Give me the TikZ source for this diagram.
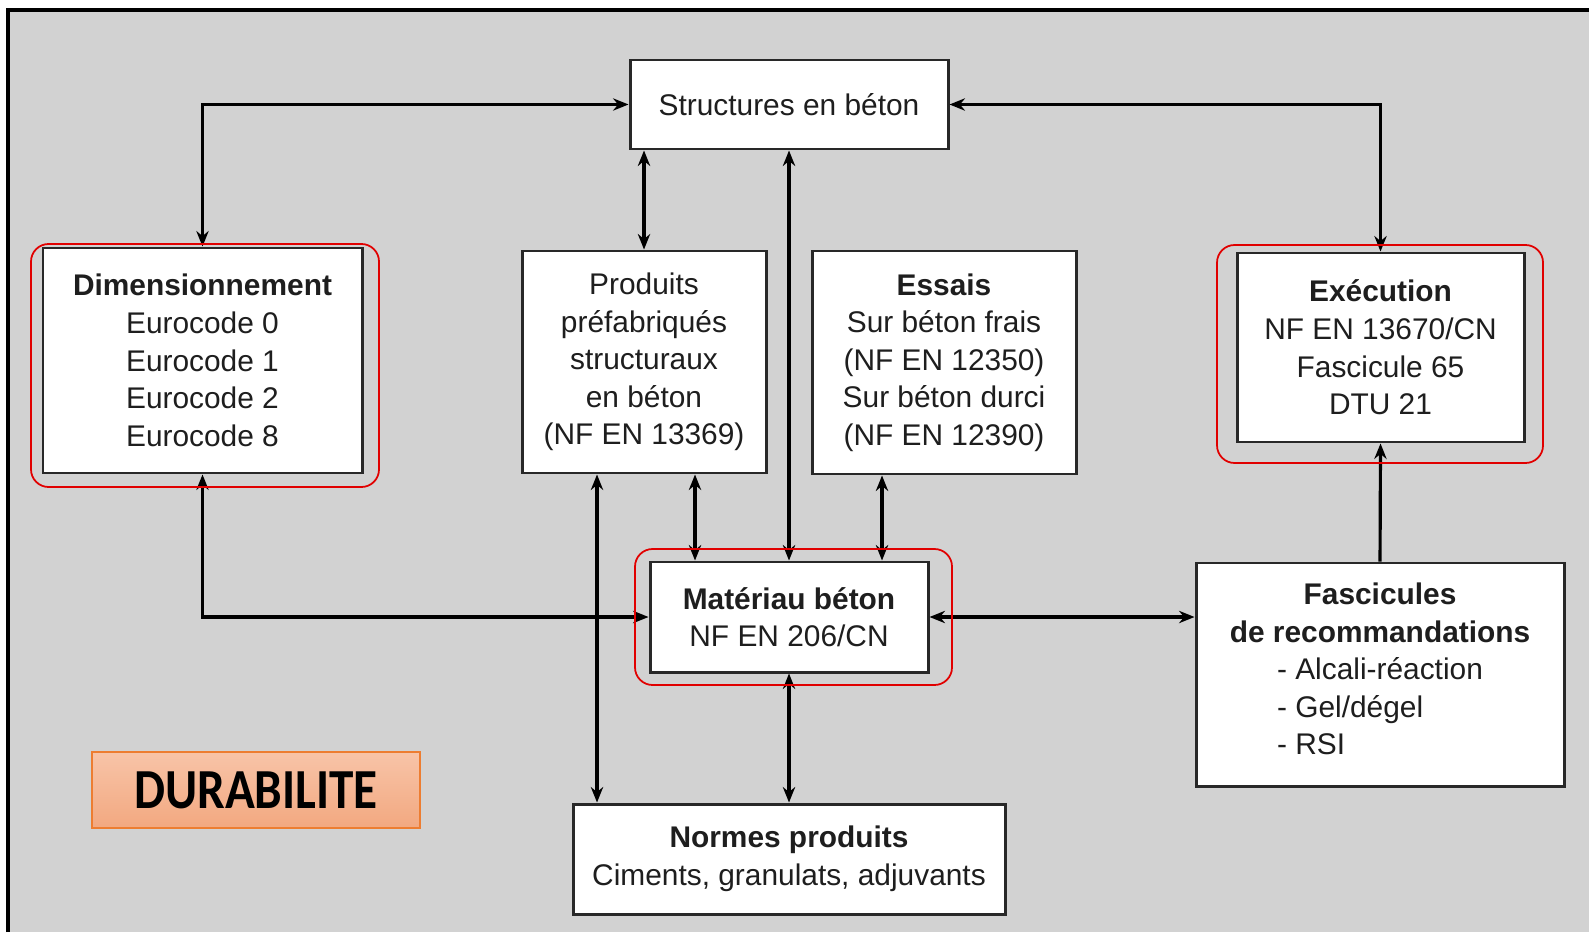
\documentclass[tikz,border=0pt]{standalone}
\usepackage{graphicx}
\usepackage{fontspec}
\setmainfont{Liberation Sans}
\newfontfamily\durafont{Carlito}
\usetikzlibrary{arrows.meta,shadings}

\begin{document}
\begin{tikzpicture}[
	box/.style={draw=linecolor, line width=0.85pt, fill=white, align=center, inner sep=0pt, text=labelcolor, font=\fontsize{8.5}{10.7}\selectfont},
	link/.style={line width=0.9pt, {Stealth[length=4.4pt,width=3.5pt]}-{Stealth[length=4.4pt,width=3.5pt]}},
	oneway/.style={line width=0.9pt, -{Stealth[length=4.4pt,width=3.5pt]}},
	redframe/.style={draw=framered, line width=0.5pt, rounded corners=5pt}
]
	% Define colors
	\definecolor{bgcolor}{RGB}{210, 210, 210}
	\definecolor{linecolor}{RGB}{40, 40, 40}
	\definecolor{labelcolor}{RGB}{30, 30, 30}
	\definecolor{framered}{RGB}{225, 0, 0}
	\definecolor{duratop}{RGB}{248, 196, 168}
	\definecolor{durabottom}{RGB}{242, 168, 128}
	\definecolor{duraline}{RGB}{237, 125, 49}

	% Background and frame
	\useasboundingbox (0,0) rectangle (15.89,9.32);
	\fill[bgcolor] (0.08,0) rectangle (15.89,9.22);
	\draw[line width=1pt] (0.08,0) -- (0.08,9.22) -- (15.89,9.22);

	% Boxes
	\node[box, minimum width=3.18cm, minimum height=0.89cm] (struct) at (7.89,8.275) {Structures en béton};
	\node[box, minimum width=3.19cm, minimum height=2.25cm] (dim) at (2.025,5.715) {\textbf{Dimensionnement}\\Eurocode 0\\Eurocode 1\\Eurocode 2\\Eurocode 8};
	\node[box, minimum width=2.44cm, minimum height=2.22cm] (prod) at (6.44,5.70) {Produits\\préfabriqués\\structuraux\\en béton\\(NF EN 13369)};
	\node[box, minimum width=2.64cm, minimum height=2.23cm] (essais) at (9.44,5.695) {\textbf{Essais}\\Sur béton frais\\(NF EN 12350)\\Sur béton durci\\(NF EN 12390)};
	\node[box, minimum width=2.87cm, minimum height=1.89cm] (exec) at (13.805,5.845) {\textbf{Exécution}\\NF EN 13670/CN\\Fascicule 65\\DTU 21};
	\node[box, minimum width=2.78cm, minimum height=1.10cm] (mat) at (7.89,3.15) {\textbf{Matériau béton}\\NF EN 206/CN};
	\node[box, minimum width=3.68cm, minimum height=2.23cm] (fasc) at (13.80,2.575) {\textbf{Fascicules}\\\textbf{de recommandations}\\\begin{tabular}[t]{@{}l@{}}- Alcali-réaction\\- Gel/dégel\\- RSI\end{tabular}};
	\node[box, minimum width=4.32cm, minimum height=1.10cm] (normes) at (7.89,0.73) {\textbf{Normes produits}\\Ciments, granulats, adjuvants};

	% Durability label
	\node[draw=duraline, line width=0.4pt, top color=duratop, bottom color=durabottom, minimum width=3.28cm, minimum height=0.76cm, inner sep=0pt] (dura) at (2.56,1.42) {\durafont\bfseries\fontsize{14}{14}\selectfont\scalebox{1}[1.15]{DURABILITE}};

	% Connectors
	\draw[link] (dim.north) |- (struct.west);
	\draw[link] (exec.north) |- (struct.east);
	\draw[link] (prod.north) -- (prod.north |- struct.south);
	\draw[link] (mat.north) -- (struct.south);
	\draw[link] ([xshift=-0.94cm]mat.north) -- ([xshift=-0.94cm]mat.north |- prod.south);
	\draw[link] ([xshift=0.93cm]mat.north) -- ([xshift=0.93cm]mat.north |- essais.south);
	\draw[link] ([xshift=-1.92cm]normes.north) -- ([xshift=-1.92cm]normes.north |- prod.south);
	\draw[link] (mat.south) -- (normes.north);
	\draw[link] (dim.south) |- (mat.west);
	\draw[link] (mat.east) -- (mat.east -| fasc.west);
	\draw[oneway] (fasc.north) -- (exec.south);

	% Red highlight frames
	\draw[redframe] (0.31,4.45) rectangle (3.79,6.88);
	\draw[redframe] (12.17,4.69) rectangle (15.43,6.87);
	\draw[redframe] (6.35,2.47) rectangle (9.52,3.83);
\end{tikzpicture}
\end{document}
